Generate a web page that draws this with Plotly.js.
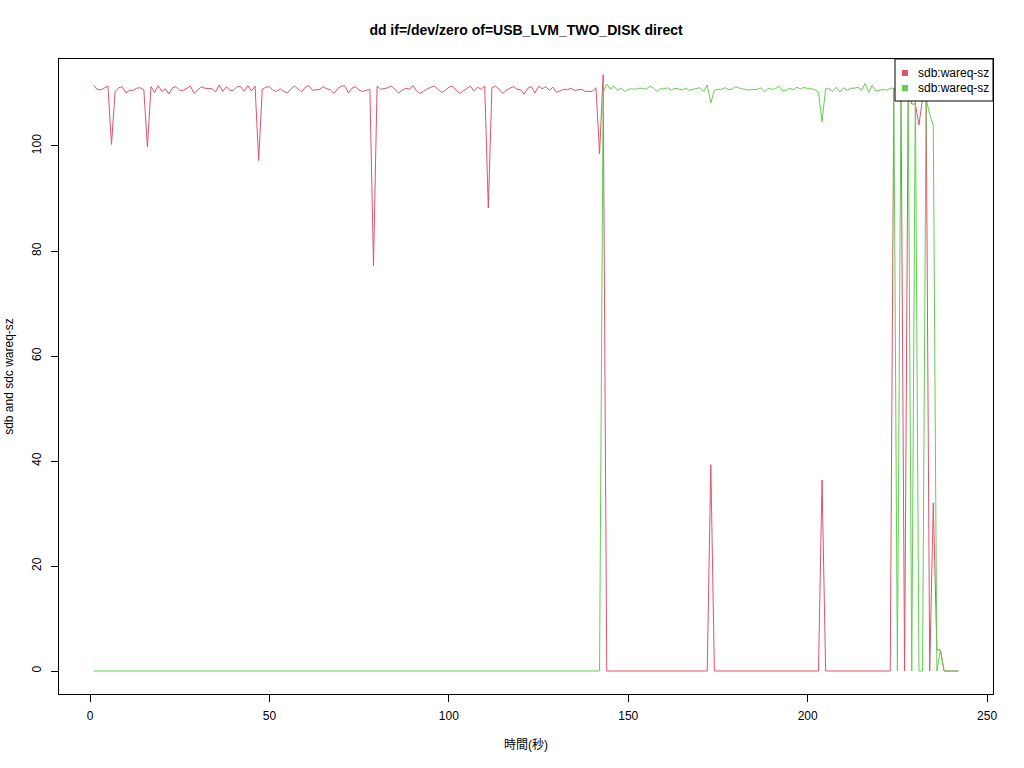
<!DOCTYPE html>
<html>
<head>
<meta charset="utf-8">
<script src="https://cdn.plot.ly/plotly-3.0.1.min.js"></script>
<style>html,body{margin:0;padding:0;background:#fff;}#chart{width:1024px;height:768px;}</style>
</head>
<body>
<div id="chart"></div>
<script>
// Time (seconds) 1..242
var seconds = [];
for (var i = 1; i <= 242; i++) seconds.push(i);

// sdb wareq-sz (red)
var sdbWareq = [
  111.5,110.8,110.7,111.0,111.4,100.3,110.4,111.1,111.3,110.1,
  110.6,110.6,111.0,111.1,110.7,99.8,111.3,110.2,111.5,110.4,
  110.9,109.9,111.1,111.3,110.6,110.6,111.0,111.4,110.0,110.6,
  111.3,111.0,110.9,110.9,110.3,111.6,110.4,111.3,110.6,110.6,
  111.3,111.3,110.4,111.5,110.5,111.4,97.2,110.8,111.2,111.3,
  110.6,110.4,110.9,110.4,110.1,110.9,111.4,110.9,110.3,111.2,
  111.5,110.6,110.7,110.8,111.3,110.9,110.7,110.0,110.9,111.4,
  111.5,110.1,111.0,111.3,110.6,110.4,110.6,110.8,77.2,111.4,
  110.8,110.9,111.1,111.4,110.7,110.1,110.6,111.0,110.8,111.5,
  110.5,110.0,110.4,110.9,111.2,111.4,110.8,110.2,110.6,111.2,
  111.4,110.6,110.0,110.5,110.9,111.4,110.5,111.2,110.8,111.4,
  88.2,111.1,111.4,110.8,110.0,110.6,111.0,111.3,110.8,110.7,
  109.9,111.0,111.3,110.1,111.4,110.9,111.3,110.6,111.2,110.2,
  110.5,110.8,110.7,111.0,110.6,110.7,110.8,110.4,110.4,110.4,
  111.1,98.5,113.6,0,0,0,0,0,0,0,
  0,0,0,0,0,0,0,0,0,0,
  0,0,0,0,0,0,0,0,0,0,
  0,0,39.3,0,0,0,0,0,0,0,
  0,0,0,0,0,0,0,0,0,0,
  0,0,0,0,0,0,0,0,0,0,
  0,0,0,36.4,0,0,0,0,0,0,
  0,0,0,0,0,0,0,0,0,0,
  0,0,0,111,110,111,0,110,108,108,
  104,109,111,0,32,4,4,0,0,0,
  0,0
];

// sdc wareq-sz (green)
var sdcWareq = [
  0,0,0,0,0,0,0,0,0,0,
  0,0,0,0,0,0,0,0,0,0,
  0,0,0,0,0,0,0,0,0,0,
  0,0,0,0,0,0,0,0,0,0,
  0,0,0,0,0,0,0,0,0,0,
  0,0,0,0,0,0,0,0,0,0,
  0,0,0,0,0,0,0,0,0,0,
  0,0,0,0,0,0,0,0,0,0,
  0,0,0,0,0,0,0,0,0,0,
  0,0,0,0,0,0,0,0,0,0,
  0,0,0,0,0,0,0,0,0,0,
  0,0,0,0,0,0,0,0,0,0,
  0,0,0,0,0,0,0,0,0,0,
  0,0,0,0,0,0,0,0,0,0,
  0,0,110.2,111.8,110.8,111.4,110.6,111.0,110.4,110.8,
  110.9,110.8,111.0,111.0,110.8,111.4,111.0,110.4,110.9,110.9,
  111.1,110.6,111.0,110.8,110.7,111.0,110.6,110.8,111.0,111.1,
  110.4,111.6,108.2,110.6,110.8,110.8,111.1,110.7,110.9,111.3,
  111.0,110.8,110.7,110.7,110.7,110.8,111.1,110.3,111.0,110.8,
  110.9,111.4,110.5,110.6,111.0,110.7,111.2,110.8,111.2,110.9,
  110.9,110.7,110.3,104.6,110.9,110.9,110.4,111.2,110.3,111.1,
  110.6,111.0,111.0,111.2,110.6,111.9,110.2,111.6,110.4,110.6,
  110.8,110.6,111.0,111,0,111,110,111,0,111,
  0,0,109,106,104,0,4,0,0,0,
  0,0
];

var legendLabels = ["sdb:wareq-sz", "sdb:wareq-sz"];
var seriesColors = ["#DF536B", "#61D04F"];

var traces = [
  {x: seconds, y: sdbWareq, type: "scatter", mode: "lines", name: legendLabels[0],
   line: {color: seriesColors[0], width: 1}, showlegend: false},
  {x: seconds, y: sdcWareq, type: "scatter", mode: "lines", name: legendLabels[1],
   line: {color: seriesColors[1], width: 1}, showlegend: false}
];

var fontFam = "Liberation Sans, Arial, Noto Sans CJK JP, sans-serif";

// R-style legend box (top-right, inside plot area), drawn in paper coordinates
var plotW = 934, plotH = 635;
var boxLeftPx = 836, boxHeightPx = 42;
var rowTopPx = [14, 29];
var sq = 6;
var shapes = [{
  type: "rect", xref: "paper", yref: "paper",
  x0: boxLeftPx / plotW, x1: 1, y0: 1 - boxHeightPx / plotH, y1: 1,
  line: {color: "#000", width: 1}, fillcolor: "#ffffff", layer: "above"
}];
var annotations = [];
for (var k = 0; k < legendLabels.length; k++) {
  var yc = 1 - rowTopPx[k] / plotH;
  shapes.push({
    type: "rect", xref: "paper", yref: "paper",
    x0: (846 - sq / 2) / plotW, x1: (846 + sq / 2) / plotW,
    y0: yc - (sq / 2) / plotH, y1: yc + (sq / 2) / plotH,
    line: {width: 0}, fillcolor: seriesColors[k], layer: "above"
  });
  annotations.push({
    xref: "paper", yref: "paper", x: 857 / plotW, y: yc,
    xanchor: "left", yanchor: "middle", showarrow: false,
    text: legendLabels[k], font: {family: fontFam, size: 12, color: "#000"}
  });
}

var layout = {
  width: 1024, height: 768,
  paper_bgcolor: "#ffffff", plot_bgcolor: "#ffffff",
  margin: {l: 59, r: 31, t: 59, b: 74, pad: 0},
  font: {family: fontFam, size: 12, color: "#000"},
  showlegend: false,
  title: {text: "<b>dd if=/dev/zero of=USB_LVM_TWO_DISK direct</b>",
          font: {family: fontFam, size: 14, color: "#000"},
          x: 0.5, xref: "paper", y: 1 - 30/768, yref: "container", yanchor: "middle"},
  xaxis: {
    range: [-8.64, 251.64], autorange: false,
    tickmode: "array", tickvals: [0, 50, 100, 150, 200, 250],
    ticks: "outside", ticklen: 7, tickwidth: 1, tickcolor: "#000",
    ticklabelstandoff: 4,
    showline: true, linecolor: "#000", linewidth: 1, mirror: true,
    showgrid: false, zeroline: false,
    tickfont: {size: 12, color: "#000"},
    title: {text: "時間(秒)", font: {size: 12, color: "#000"}, standoff: 18}
  },
  yaxis: {
    range: [-4.38, 116.57], autorange: false,
    tickmode: "array", tickvals: [0, 20, 40, 60, 80, 100],
    tickangle: -90,
    ticks: "outside", ticklen: 7, tickwidth: 1, tickcolor: "#000",
    ticklabelstandoff: 5,
    showline: true, linecolor: "#000", linewidth: 1, mirror: true,
    showgrid: false, zeroline: false,
    tickfont: {size: 12, color: "#000"},
    title: {text: "sdb and sdc wareq-sz", font: {size: 12, color: "#000"}, standoff: 14}
  },
  shapes: shapes,
  annotations: annotations
};

Plotly.newPlot("chart", traces, layout, {displayModeBar: false, staticPlot: true});
</script>
</body>
</html>
